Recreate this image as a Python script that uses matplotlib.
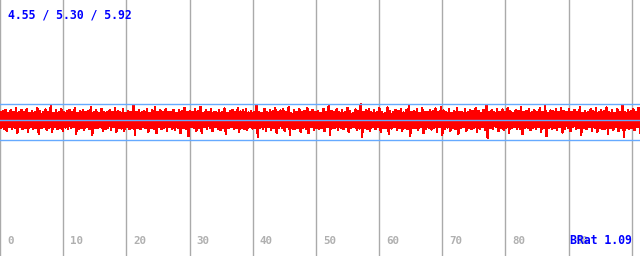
import matplotlib
matplotlib.use("Agg")
import matplotlib.pyplot as plt
import numpy as np

# signal peaks / troughs, interleaved into one trace
upper = [5.62,5.66,5.71,5.60,5.68,5.63,5.79,5.61,5.70,5.64,5.74,5.60,5.67,5.62,5.77,5.65,5.61,5.72,5.63,5.84,
         5.60,5.69,5.64,5.73,5.61,5.66,5.70,5.62,5.78,5.60,5.65,5.71,5.63,5.67,5.82,5.61,5.68,5.60,5.74,5.64,
         5.62,5.69,5.61,5.76,5.65,5.63,5.72,5.60,5.67,5.62,5.87,5.64,5.70,5.61,5.66,5.75,5.60,5.68,5.80,5.63,
         5.69,5.61,5.73,5.64,5.62,5.71,5.60,5.70,5.65,5.78,5.61,5.67,5.63,5.72,5.66,5.83,5.60,5.69,5.62,5.74,
         5.64,5.61,5.70,5.63,5.76,5.60,5.66,5.71,5.62,5.79,5.65,5.68,5.73,5.61,5.67,5.63,5.90,5.64,5.60,5.75,
         5.62,5.70,5.65,5.77,5.61,5.68,5.72,5.63,5.81,5.60,5.69,5.64,5.74,5.62,5.66,5.78,5.61,5.71,5.63,5.67,
         5.60,5.75,5.64,5.85,5.66,5.62,5.73,5.61,5.69,5.63,5.79,5.65,5.60,5.72,5.67,5.92,5.62,5.68,5.74,5.61,
         5.70,5.63,5.77,5.64,5.60,5.80,5.66,5.62,5.71,5.65,5.75,5.61,5.69,5.86,5.63,5.67,5.72,5.60,5.78,5.64,
         5.62,5.70,5.65,5.76,5.61,5.82,5.68,5.63,5.73,5.60,5.66,5.79,5.64,5.62,5.74,5.61,5.69,5.65,5.77,5.67,
         5.60,5.71,5.88,5.63,5.68,5.61,5.75,5.64,5.72,5.62,5.78,5.65,5.60,5.70,5.66,5.81,5.62,5.67,5.73,5.63,
         5.69,5.61,5.76,5.64,5.84,5.60,5.68,5.65,5.72,5.62,5.79,5.66,5.63,5.74,5.61,5.70,5.64,5.82,5.60,5.67,
         5.62,5.73,5.65,5.77,5.61,5.69,5.66,5.80,5.63,5.71,5.60,5.75,5.64,5.86,5.62,5.68,5.65,5.72,5.61,5.78]
lower = [5.02,4.96,4.90,5.04,4.98,5.01,4.82,5.03,4.95,5.00,4.86,5.04,4.97,5.02,4.78,4.99,5.03,4.92,5.01,4.84,
         5.03,4.97,5.00,4.88,5.02,4.95,4.99,5.04,4.76,4.98,5.01,4.91,5.03,4.96,4.72,5.02,4.99,5.04,4.87,4.97,
         5.01,4.94,5.03,4.83,5.00,4.98,4.90,5.04,4.96,5.02,4.74,5.01,4.95,5.03,4.99,4.85,5.02,4.97,4.79,5.04,
         4.96,5.01,4.89,5.03,4.98,4.93,5.02,4.81,5.00,4.95,4.68,5.03,5.01,4.90,4.99,4.80,5.04,4.97,5.02,4.87,
         5.03,4.98,4.92,5.01,4.77,4.99,5.04,4.95,5.00,4.84,5.02,4.96,4.91,5.03,4.98,5.01,4.64,5.02,4.97,4.88,
         5.04,4.94,5.00,4.82,5.02,4.99,4.90,5.03,4.75,4.98,4.95,5.01,4.86,5.02,4.97,4.79,5.04,4.93,5.00,4.98,
         5.02,4.88,5.03,4.73,4.99,5.01,4.91,5.00,4.96,5.04,4.83,5.01,5.03,4.94,4.98,4.66,5.02,4.97,4.89,5.03,
         4.95,5.04,4.85,4.99,5.02,4.78,4.98,5.03,4.93,5.01,4.87,5.02,4.96,4.70,5.00,4.99,4.91,5.04,4.81,4.97,
         5.02,4.94,5.01,4.86,5.04,4.74,4.98,5.02,4.90,5.00,4.96,4.77,4.99,5.03,4.89,5.02,4.95,5.01,4.84,4.98,
         5.03,4.93,4.62,5.00,4.97,5.04,4.88,4.99,4.94,5.02,4.80,5.01,5.03,4.95,4.98,4.76,5.02,4.99,4.91,5.00,
         4.96,5.04,4.85,4.99,4.69,5.02,4.97,5.01,4.93,5.03,4.82,4.98,5.00,4.89,5.04,4.95,4.99,4.75,5.02,4.97,
         5.03,4.90,5.01,4.84,5.02,4.96,4.98,4.78,5.00,4.94,5.04,4.87,4.99,4.65,5.02,4.97,5.01,4.92,5.03,4.83]

stats = [4.55, 5.30, 5.92]   # min / avg / max
brat = 1.09
xticks = [0, 10, 20, 30, 40, 50, 60, 70, 80, 90, 100]

signal = np.empty(len(upper) + len(lower))
signal[0::2] = upper
signal[1::2] = lower
t = np.linspace(0, 101.3, len(signal))

fig = plt.figure(figsize=(6.4, 2.56), dpi=100)
ax = fig.add_axes([0, 0, 1, 1])
ax.set_xlim(0, 101.3)
ax.set_ylim(0, 10)
ax.axis("off")

for x in xticks:
    ax.axvline(x, color="#aaaaaa", lw=1.0, zorder=1)
    ax.annotate(str(x), xy=(x, 0), xycoords=("data", "axes fraction"),
                xytext=(5.2, 8.6), textcoords="offset points",
                fontsize=7.8, family="DejaVu Sans Mono", fontweight="bold",
                color="#b0b0b0", va="baseline", ha="left", zorder=5)

ax.plot(t, signal, color="#ff0000", lw=1.0, antialiased=False, zorder=2)

for s in stats:
    ax.axhline(s, color="#66aaff", lw=1.0, zorder=3)

ax.text(8 / 640, 1 - 19 / 256, " / ".join(f"{s:.2f}" for s in stats),
        transform=ax.transAxes, fontsize=8.3, family="DejaVu Sans Mono",
        fontweight="bold", color="#0000ff", va="baseline", ha="left", zorder=6)
ax.text(632 / 640, 12 / 256, f"BRat {brat:.2f}",
        transform=ax.transAxes, fontsize=8.3, family="DejaVu Sans Mono",
        fontweight="bold", color="#0000ff", va="baseline", ha="right", zorder=6)

fig.savefig("out.png", dpi=100)
